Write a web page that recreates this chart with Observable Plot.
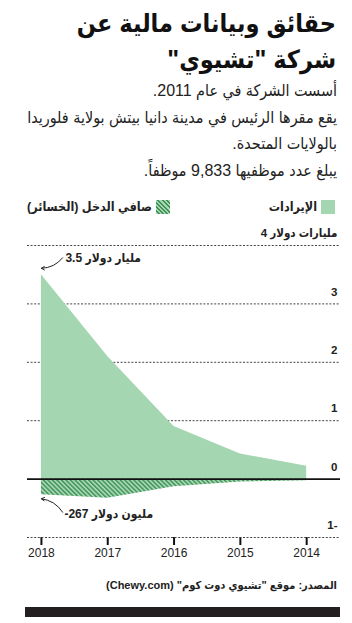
<!DOCTYPE html>
<html lang="ar">
<head>
<meta charset="utf-8">
<script src="https://cdn.jsdelivr.net/npm/d3@7"></script>
<script src="https://cdn.jsdelivr.net/npm/@observablehq/plot@0.6"></script>
<style>
  html, body { margin: 0; padding: 0; background: #fff; }
  body { width: 352px; height: 623px; position: relative; overflow: hidden; font-family: "Liberation Sans", "DejaVu Sans Condensed", "DejaVu Sans", sans-serif; color: #1a1a1a; }
  .abs { position: absolute; }
  #title { top: 5px; right: 16px; left: 10px; direction: rtl; text-align: right; font-weight: bold; font-size: 25px; line-height: 36px; color: #111; white-space: nowrap; }
  #sub { top: 78px; right: 15px; left: 10px; direction: rtl; text-align: right; font-size: 16px; line-height: 26.7px; color: #222; white-space: nowrap; }
  .leg { top: 199px; font-weight: bold; font-size: 12.5px; direction: rtl; display: flex; align-items: center; gap: 4px; color: #222; white-space: nowrap; }
  .sw { width: 14px; height: 14px; display: inline-block; }
  #chart { top: 225px; left: 0; }
  #source { top: 579px; right: 15px; direction: rtl; font-weight: bold; font-size: 11px; color: #222; white-space: nowrap; }
  #bar { top: 607px; left: 25px; width: 315px; height: 10px; background: #231f20; }
</style>
</head>
<body>
<div id="title" class="abs">حقائق وبيانات مالية عن<br>شركة "تشيوي"</div>
<div id="sub" class="abs">
  <div>أسست الشركة في عام 2011.</div>
  <div>يقع مقرها الرئيس في مدينة دانيا بيتش بولاية فلوريدا</div>
  <div>بالولايات المتحدة.</div>
  <div>يبلغ عدد موظفيها 9,833 موظفاً.</div>
</div>
<div class="abs leg" id="leg1" style="right:17px;"><span class="sw" style="background:#a5d6b2"></span><span>الإيرادات</span></div>
<div class="abs leg" id="leg2" style="left:27px;"><span class="sw" style="background:repeating-linear-gradient(45deg,#a5d6b2 0 1.5px,#3f9157 1.5px 3px)"></span><span>صافي الدخل (الخسائر)</span></div>
<div id="chart" class="abs"></div>
<div id="source" class="abs">المصدر: موقع "تشيوي دوت كوم" (Chewy.com)</div>
<div id="bar" class="abs"></div>
<script>
// Data (billions of US dollars)
const years = [2018, 2017, 2016, 2015, 2014];
const revenue = [3.5, 2.1, 0.9, 0.43, 0.22];
const netIncome = [-0.267, -0.33, -0.13, -0.05, -0.03];
const yTicks = [4, 3, 2, 1, 0, -1];
const yTickLabels = ["4 مليارات دولار", "3", "2", "1", "0", "1-"];
const annotations = [
  {year: 2018, value: 3.5, label: "3.5 مليار دولار", side: "top"},
  {year: 2018, value: -0.267, label: "-267 مليون دولار", side: "bottom"}
];

const rev = years.map((y, i) => ({year: y, value: revenue[i]}));
const net = years.map((y, i) => ({year: y, value: netIncome[i]}));
const ticks = yTicks.map((v, i) => ({value: v, label: yTickLabels[i]}));

const green = "#a5d6b2";
const darkGreen = "#3f9157";
const labelFont = "'Liberation Sans', 'DejaVu Sans Condensed', 'DejaVu Sans', sans-serif";

const plot = Plot.plot({
  width: 352,
  height: 342,
  marginLeft: 27,
  marginRight: 12,
  marginTop: 20,
  marginBottom: 30,
  style: {fontFamily: "'Liberation Sans Narrow', 'Liberation Sans', sans-serif", fontSize: "12px", color: "#222", background: "transparent"},
  x: {domain: [2018.21, 2013.49], ticks: years, tickFormat: d => String(d), tickSize: 8, tickPadding: 3, label: null},
  y: {domain: [-1, 4], axis: null},
  marks: [
    Plot.ruleY(ticks.filter(d => d.value !== 0), {y: "value", stroke: "#444", strokeDasharray: "2,1.6", strokeWidth: 1}),
    Plot.areaY(rev, {x: "year", y: "value", fill: green}),
    Plot.areaY(net, {x: "year", y: "value", fill: "url(#hatch)"}),
    Plot.ruleY([0], {stroke: "#111", strokeWidth: 1.6}),
    Plot.text(ticks, {x: 2013.49, y: "value", text: "label", textAnchor: "end", dx: -3, dy: -12, fontFamily: labelFont, fontSize: 11.5, fontWeight: "bold", fill: "#222"}),
    Plot.text(annotations.filter(d => d.side === "top"), {x: "year", y: "value", text: "label", textAnchor: "start", dx: 24, dy: -17, fontFamily: labelFont, fontSize: 12, fontWeight: "bold", fill: "#222"}),
    Plot.text(annotations.filter(d => d.side === "bottom"), {x: "year", y: "value", text: "label", textAnchor: "start", dx: 23, dy: 19, fontFamily: labelFont, fontSize: 12, fontWeight: "bold", fill: "#222"}),
    Plot.arrow(annotations.filter(d => d.side === "top"), {
      x1: d => d.year - 0.32, y1: d => d.value + 0.29, x2: d => d.year, y2: d => d.value + 0.11,
      bend: 25, stroke: "#222", strokeWidth: 1, headLength: 5}),
    Plot.arrow(annotations.filter(d => d.side === "bottom"), {
      x1: d => d.year - 0.32, y1: d => d.value - 0.3, x2: d => d.year, y2: d => d.value - 0.07,
      bend: -25, stroke: "#222", strokeWidth: 1, headLength: 5})
  ]
});

// hatch pattern for net income area
const ns = "http://www.w3.org/2000/svg";
const defs = document.createElementNS(ns, "defs");
defs.innerHTML = `<pattern id="hatch" patternUnits="userSpaceOnUse" width="3.2" height="3.2" patternTransform="rotate(-45)">
  <rect width="3.2" height="3.2" fill="${green}"></rect>
  <rect width="1.4" height="3.2" fill="${darkGreen}"></rect>
</pattern>`;
plot.insertBefore(defs, plot.firstChild);
// thicker ticks on the x axis
plot.querySelectorAll("[aria-label='x-axis tick'] path, [aria-label='x-axis'] .tick line").forEach(el => {
  el.setAttribute("stroke-width", "2");
  el.setAttribute("stroke", "#111");
});
document.getElementById("chart").appendChild(plot);
</script>
</body>
</html>
